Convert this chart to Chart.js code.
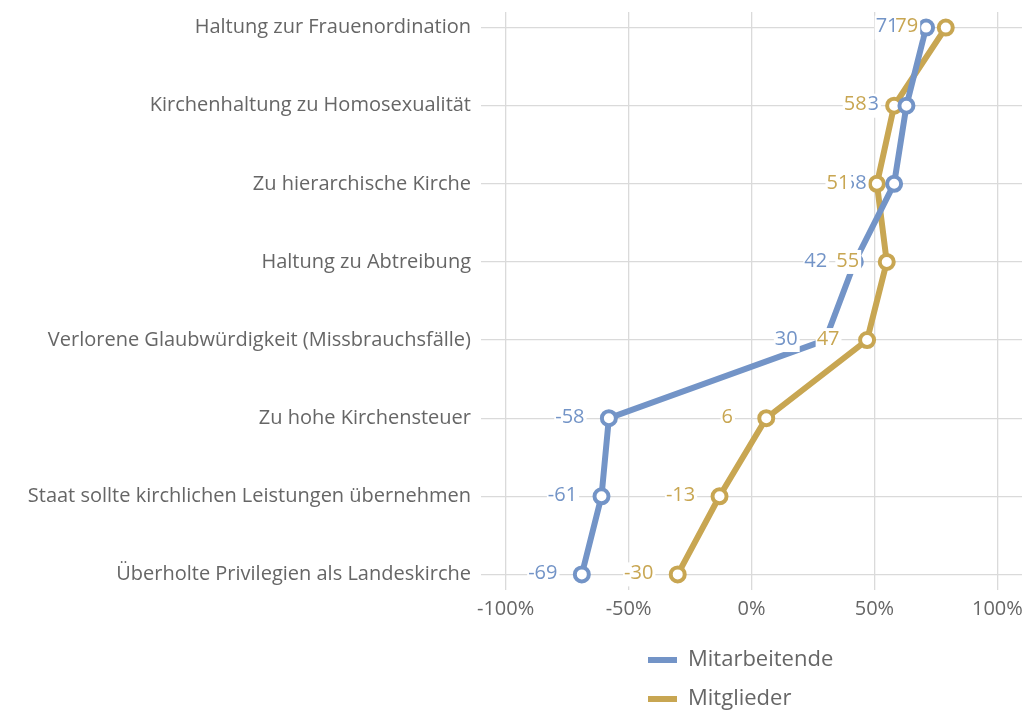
<!DOCTYPE html>
<html>
<head>
<meta charset="utf-8">
<script src="https://cdn.jsdelivr.net/npm/chart.js@4"></script>
<style>
  html, body { margin: 0; padding: 0; background: #fff; }
  #wrap { width: 1029px; height: 711px; position: relative; }
</style>
</head>
<body>
<div id="wrap"><canvas id="chart"></canvas></div>
<script>
const categories = [
  "Haltung zur Frauenordination",
  "Kirchenhaltung zu Homosexualität",
  "Zu hierarchische Kirche",
  "Haltung zu Abtreibung",
  "Verlorene Glaubwürdigkeit (Missbrauchsfälle)",
  "Zu hohe Kirchensteuer",
  "Staat sollte kirchlichen Leistungen übernehmen",
  "Überholte Privilegien als Landeskirche"
];
const mitarbeitende = [71, 63, 58, 42, 30, -58, -61, -69];
const mitglieder = [79, 58, 51, 55, 47, 6, -13, -30];
const xTicks = [-100, -50, 0, 50, 100];

const BLUE = "rgb(115,148,199)";
const GOLD = "rgb(200,166,82)";
const GREY = "rgb(102,102,102)";
const FONT = "'Open Sans', sans-serif";

function toPoints(values) {
  return values.map((v, i) => ({ x: v, y: i }));
}

// value labels with white boxes, drawn over lines and points
const valueLabels = {
  id: "valueLabels",
  afterDatasetsDraw(chart) {
    const ctx = chart.ctx;
    ctx.save();
    ctx.font = "20px " + FONT;
    ctx.textAlign = "center";
    ctx.textBaseline = "middle";
    chart.data.datasets.forEach((ds, di) => {
      const meta = chart.getDatasetMeta(di);
      meta.data.forEach((pt, i) => {
        const text = String(ds.data[i].x);
        const w = ctx.measureText(text).width;
        const cx = pt.x - 39;
        ctx.fillStyle = "#fff";
        ctx.fillRect(cx - w / 2 - 1, pt.y - 12, w + 3, 24);
        ctx.fillStyle = ds.borderColor;
        ctx.fillText(text, cx, pt.y - 1);
      });
    });
    ctx.restore();
  }
};

// stacked legend under the plot
const stackedLegend = {
  id: "stackedLegend",
  afterDraw(chart) {
    const ctx = chart.ctx;
    ctx.save();
    ctx.font = "22px " + FONT;
    ctx.textBaseline = "middle";
    chart.data.datasets.forEach((ds, i) => {
      const y = 660 + i * 39;
      ctx.fillStyle = ds.borderColor;
      ctx.fillRect(648, y - 3, 29, 6);
      ctx.fillStyle = GREY;
      ctx.fillText(ds.label, 688, y);
    });
    ctx.restore();
  }
};

new Chart(document.getElementById("chart"), {
  type: "line",
  data: {
    datasets: [
      {
        label: "Mitarbeitende",
        data: toPoints(mitarbeitende),
        borderColor: BLUE,
        backgroundColor: "#fff",
        borderWidth: 6,
        pointRadius: 7,
        pointBorderWidth: 4,
        pointBackgroundColor: "#fff",
        pointBorderColor: BLUE
      },
      {
        label: "Mitglieder",
        data: toPoints(mitglieder),
        borderColor: GOLD,
        backgroundColor: "#fff",
        borderWidth: 6,
        pointRadius: 7,
        pointBorderWidth: 4,
        pointBackgroundColor: "#fff",
        pointBorderColor: GOLD
      }
    ]
  },
  options: {
    responsive: true,
    maintainAspectRatio: false,
    animation: false,
    layout: { autoPadding: false, padding: { top: 12, right: 7, bottom: 90, left: 0 } },
    plugins: {
      legend: { display: false },
      tooltip: { enabled: false }
    },
    scales: {
      x: {
        type: "linear",
        min: -110,
        max: 110,
        afterBuildTicks: (s) => { s.ticks = xTicks.map((v) => ({ value: v })); },
        afterFit: (s) => { s.height = 31; s.paddingLeft = 0; s.paddingRight = 0; },
        grid: { color: "rgb(218,218,218)", lineWidth: 1.3, drawTicks: false },
        border: { display: false },
        ticks: {
          padding: 7,
          color: GREY,
          font: { family: FONT, size: 20 },
          callback: (v) => v + "%"
        }
      },
      y: {
        type: "linear",
        reverse: true,
        min: -0.2,
        max: categories.length - 0.8,
        afterBuildTicks: (s) => { s.ticks = categories.map((c, i) => ({ value: i })); },
        afterFit: (s) => { s.width = 481; s.paddingTop = 0; s.paddingBottom = 0; },
        grid: { color: "rgb(218,218,218)", lineWidth: 1.3, drawTicks: false },
        border: { display: false },
        ticks: {
          padding: 10,
          color: GREY,
          font: { family: FONT, size: 20 },
          callback: (v) => categories[v]
        }
      }
    }
  },
  plugins: [valueLabels, stackedLegend]
});
</script>
</body>
</html>
